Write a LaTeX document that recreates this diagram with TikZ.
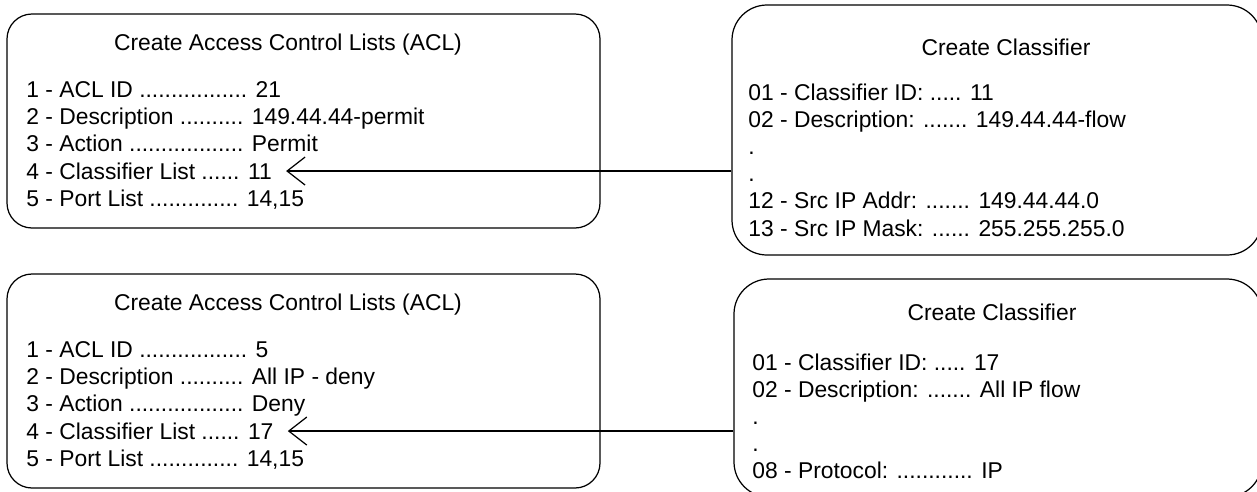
\documentclass[tikz,border=0pt]{standalone}
\usepackage{fontspec}
\setmainfont{Liberation Sans}
\usetikzlibrary{arrows.meta,fit}

\tikzset{
  listbox/.style={draw, line width=0.7pt, inner sep=0pt},
  aclbox/.style={listbox, rounded corners=0.5cm},
  clsbox/.style={listbox, rounded corners=0.7cm},
  boxtitle/.style={anchor=base, inner sep=0pt, font=\fontsize{13}{15.5}\selectfont},
  entry/.style={anchor=base west, inner sep=0pt, font=\fontsize{13}{15.5}\selectfont},
  link/.style={line width=0.7pt, -{Straight Barb[length=3.6mm,width=5.6mm]}, shorten >=0.28cm}
}

\begin{document}
\begin{tikzpicture}[x=0.02cm, y=-0.02cm]
  \useasboundingbox (0,0) rectangle (1257,491);

  % upper ACL and its classifier
  \node[aclbox, fit={(7,14) (600,228)}] (aclA) {};
  \node[boxtitle] (aclA-title) at (288,50) {Create Access Control Lists (ACL)};
  \node[entry] (aclA-1) at (26,97) {1 - ACL ID ................. 21};
  \node[entry] (aclA-2) at (26,124.4) {2 - Description .......... 149.44.44-permit};
  \node[entry] (aclA-3) at (26,151.8) {3 - Action .................. Permit};
  \node[entry] (aclA-4) at (26,179.2) {4 - Classifier List ...... 11};
  \node[entry] (aclA-5) at (26,206.6) {5 - Port List .............. 14,15};

  \node[clsbox, fit={(732,5) (1262,255)}] (clsA) {};
  \node[boxtitle] (clsA-title) at (1006,55) {Create Classifier};
  \node[entry] (clsA-1) at (748,100) {01 - Classifier ID: ..... 11};
  \node[entry] (clsA-2) at (748,127.2) {02 - Description: ....... 149.44.44-flow};
  \node[entry] (clsA-3) at (748,154.4) {.};
  \node[entry] (clsA-4) at (748,181.6) {.};
  \node[entry] (clsA-5) at (748,208.8) {12 - Src IP Addr: ....... 149.44.44.0};
  \node[entry] (clsA-6) at (748,236) {13 - Src IP Mask: ...... 255.255.255.0};

  \draw[link] (clsA.west |- aclA-4.east) -- (aclA-4.east);

  % lower ACL and its classifier
  \node[aclbox, fit={(7,274) (600,488)}] (aclB) {};
  \node[boxtitle] (aclB-title) at (288,310) {Create Access Control Lists (ACL)};
  \node[entry] (aclB-1) at (26,357) {1 - ACL ID ................. 5};
  \node[entry] (aclB-2) at (26,384.4) {2 - Description .......... All IP - deny};
  \node[entry] (aclB-3) at (26,411.8) {3 - Action .................. Deny};
  \node[entry] (aclB-4) at (26,439.2) {4 - Classifier List ...... 17};
  \node[entry] (aclB-5) at (26,466.6) {5 - Port List .............. 14,15};

  \node[clsbox, fit={(734,279) (1262,497)}] (clsB) {};
  \node[boxtitle] (clsB-title) at (992,320) {Create Classifier};
  \node[entry] (clsB-1) at (752,370) {01 - Classifier ID: ..... 17};
  \node[entry] (clsB-2) at (752,397.2) {02 - Description: ....... All IP flow};
  \node[entry] (clsB-3) at (752,424.4) {.};
  \node[entry] (clsB-4) at (752,451.6) {.};
  \node[entry] (clsB-5) at (752,478.8) {08 - Protocol: ............ IP};

  \draw[link] (clsB.west |- aclB-4.east) -- (aclB-4.east);
\end{tikzpicture}
\end{document}
